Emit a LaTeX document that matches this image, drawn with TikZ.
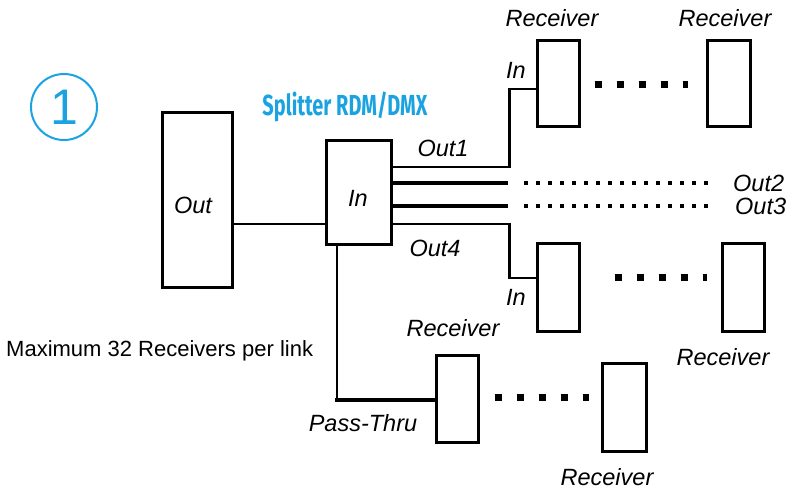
\documentclass[tikz,border=0pt]{standalone}
\usepackage{fontspec}
\usepackage{graphicx}
\setmainfont{Liberation Sans}
\newfontfamily\splitfont{Fira Sans}
\definecolor{cyanish}{HTML}{1AA3E0}
\begin{document}
\begin{tikzpicture}[x=1pt,y=-1pt,
  box/.style={draw, line width=3pt, inner sep=0pt, fill=white},
  lbl/.style={inner sep=0pt, font=\fontsize{23.5}{24}\selectfont\itshape},
  wire/.style={line width=2.2pt},
  fatwire/.style={line width=3.4pt},
  passwire/.style={line width=4.5pt},
  finedots/.style={line width=4pt, dash pattern=on 4pt off 8pt},
  bigdots/.style={line width=7pt, dash pattern=on 7pt off 15pt}]
\useasboundingbox (0,0) rectangle (796,492);

% circle with number
\node[draw=cyanish, line width=2pt, circle, minimum size=66pt, inner sep=0pt,
  text=cyanish, font=\fontsize{50}{50}\selectfont] (num) at (64,107) {1};

% splitter title
\node[inner sep=0pt, text=cyanish] (title) at (345,107)
  {\resizebox{165pt}{\height}{\splitfont\bfseries\fontsize{29}{29}\selectfont Splitter RDM/DMX}};

% boxes
\node[box, minimum width=70pt, minimum height=174pt] (out) at (197,200) {};
\node[lbl] (outlbl) at (193,205) {Out};
\node[box, minimum width=65pt, minimum height=104pt] (split) at (358.5,193) {};
\node[lbl] (inlbl) at (358,198) {In};

\node[box, minimum width=42pt, minimum height=86pt] (R1) at (558,84) {};
\node[box, minimum width=43pt, minimum height=86pt] (R2) at (728.5,84) {};
\node[box, minimum width=42pt, minimum height=87pt] (R3) at (558,287.5) {};
\node[box, minimum width=42pt, minimum height=87pt] (R4) at (743,287.5) {};
\node[box, minimum width=42pt, minimum height=87pt] (R5) at (457,398.5) {};
\node[box, minimum width=44pt, minimum height=88pt] (R6) at (624,407) {};

% main link
\draw[wire] ([yshift=-31pt]split.west -| out.east) -- ([yshift=-31pt]split.west);

% outputs
\draw[wire] ([yshift=26pt]split.east) -- ++(117,0) |- ([yshift=-5pt]R1.west);
\coordinate (o2end) at (508,183);
\coordinate (o3end) at (508,206);
\draw[fatwire] ([yshift=10pt]split.east) -- (o2end);
\draw[fatwire] ([yshift=-13pt]split.east) -- (o3end);
\draw[wire] ([yshift=-31pt]split.east) -- ++(117,0) |- ([yshift=9.5pt]R3.west);

% fine dotted continuations
\coordinate (d2a) at (524,183); \coordinate (d2b) at (713,183);
\coordinate (d3a) at (524,206); \coordinate (d3b) at (713,206);
\draw[finedots] (d2a) -- (d2b);
\draw[finedots] (d3a) -- (d3b);

% big dots between receivers
\draw[bigdots, shorten <=14pt, shorten >=18pt] ([yshift=-1pt]R1.east) -- ([yshift=-1pt]R2.west);
\draw[bigdots, shorten <=34pt, shorten >=14pt] ([yshift=10.5pt]R3.east) -- ([yshift=10.5pt]R4.west);
\draw[bigdots, shorten <=15pt, shorten >=12pt] ([yshift=1.5pt]R5.east) -- ([yshift=1.5pt]R5.east -| R6.west);

% pass-thru
\draw[wire] ([xshift=-21.5pt]split.south) -- ([xshift=-21.5pt,yshift=-1.5pt]split.south |- R5.west);
\draw[passwire] ([xshift=-23.5pt,yshift=-1.5pt]split.south |- R5.west) -- ([yshift=-1.5pt]R5.west);

% labels
\node[lbl] (r1l) at (552,18) {Receiver};
\node[lbl] (r2l) at (725,18) {Receiver};
\node[lbl] (in1) at (516,70) {In};
\node[lbl] (in3) at (516,297) {In};
\node[lbl] (o1l) at (443,148) {Out1};
\node[lbl] (o4l) at (435,248) {Out4};
\node[lbl, anchor=west] (o2l) at (733,183) {Out2};
\node[lbl, anchor=west] (o3l) at (735,206) {Out3};
\node[lbl] (r4l) at (723,357) {Receiver};
\node[lbl] (r5l) at (453,328) {Receiver};
\node[lbl] (r6l) at (607,477) {Receiver};
\node[lbl] (ptl) at (363,423) {Pass-Thru};
\node[inner sep=0pt, anchor=west, font=\fontsize{22}{22}\selectfont] (maxl) at (6,351) {Maximum 32 Receivers per link};
\end{tikzpicture}
\end{document}
